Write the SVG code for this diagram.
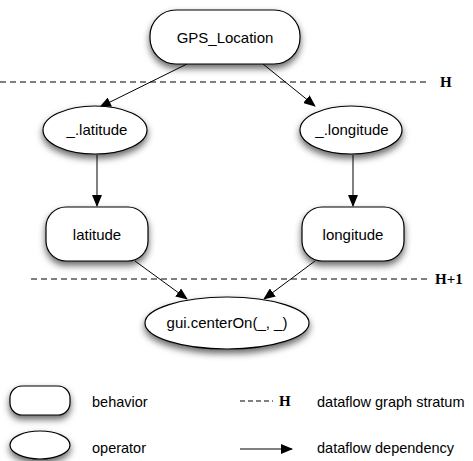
<svg xmlns="http://www.w3.org/2000/svg" width="473" height="461" viewBox="0 0 473 461">
<defs>
<filter id="sh" x="-20%" y="-20%" width="140%" height="170%">
<feDropShadow dx="0" dy="4" stdDeviation="3.5" flood-color="#000" flood-opacity="0.6"/>
</filter>
<marker id="ar" markerWidth="12" markerHeight="10" refX="11" refY="5" orient="auto" markerUnits="userSpaceOnUse">
<path d="M0,0 L12,5 L0,10 z" fill="#000"/>
</marker>
<style>
.n{fill:#fff;stroke:#000;stroke-width:1.2;filter:url(#sh)}
.t{font-family:"Liberation Sans",Arial,sans-serif;font-size:15px;text-anchor:middle;fill:#000}
.lt{font-family:"Liberation Sans",Arial,sans-serif;font-size:14.5px;fill:#000}
.c{stroke:#000;stroke-width:1;fill:none;marker-end:url(#ar)}
.d{stroke:#000;stroke-width:1;stroke-dasharray:6,4;fill:none}
.h{font-family:"Liberation Serif","Times New Roman",serif;font-weight:bold;font-size:15px;fill:#000}
</style>
</defs>
<g id="strata">
<line class="d" x1="0" y1="82" x2="430" y2="82"/>
<text class="h" x="440" y="87">H</text>
<line class="d" x1="31" y1="279" x2="430" y2="279"/>
<text class="h" x="435" y="284">H+1</text>
</g>
<g id="connectors">
<line class="c" x1="187" y1="64" x2="100" y2="107"/>
<line class="c" x1="263" y1="64" x2="315" y2="106"/>
<line class="c" x1="97" y1="155" x2="97" y2="206"/>
<line class="c" x1="353" y1="155" x2="353" y2="206"/>
<line class="c" x1="135" y1="261" x2="187" y2="299"/>
<line class="c" x1="315" y1="261" x2="264" y2="299"/>
</g>
<g id="GPS_Location">
<rect class="n" x="150" y="10" width="150" height="54" rx="26" ry="26"/>
<text class="t" x="225" y="43">GPS_Location</text>
</g>
<g id="latitude_op">
<ellipse class="n" cx="95" cy="130" rx="52" ry="24"/>
<text class="t" x="97" y="135">_.latitude</text>
</g>
<g id="longitude_op">
<ellipse class="n" cx="351" cy="130" rx="51" ry="24"/>
<text class="t" x="352" y="135">_.longitude</text>
</g>
<g id="latitude">
<rect class="n" x="46" y="207" width="102" height="54" rx="20" ry="20"/>
<text class="t" x="97" y="240">latitude</text>
</g>
<g id="longitude">
<rect class="n" x="302" y="207" width="102" height="54" rx="20" ry="20"/>
<text class="t" x="353" y="240">longitude</text>
</g>
<g id="centerOn">
<ellipse class="n" cx="227" cy="323" rx="82" ry="26"/>
<text class="t" x="227" y="328">gui.centerOn(_, _)</text>
</g>
<g id="legend">
<rect class="n" x="10" y="386" width="60" height="29" rx="12" ry="12"/>
<text class="lt" x="92" y="407">behavior</text>
<ellipse class="n" cx="40" cy="445" rx="30" ry="14"/>
<text class="lt" x="92" y="453">operator</text>
<line class="d" x1="240" y1="401" x2="273" y2="401" style="stroke-dasharray:5,3"/>
<text class="h" x="279" y="406">H</text>
<text class="lt" x="317" y="407">dataflow graph stratum</text>
<line class="c" x1="240" y1="449" x2="292" y2="449"/>
<text class="lt" x="317" y="453">dataflow dependency</text>
</g>
</svg>
